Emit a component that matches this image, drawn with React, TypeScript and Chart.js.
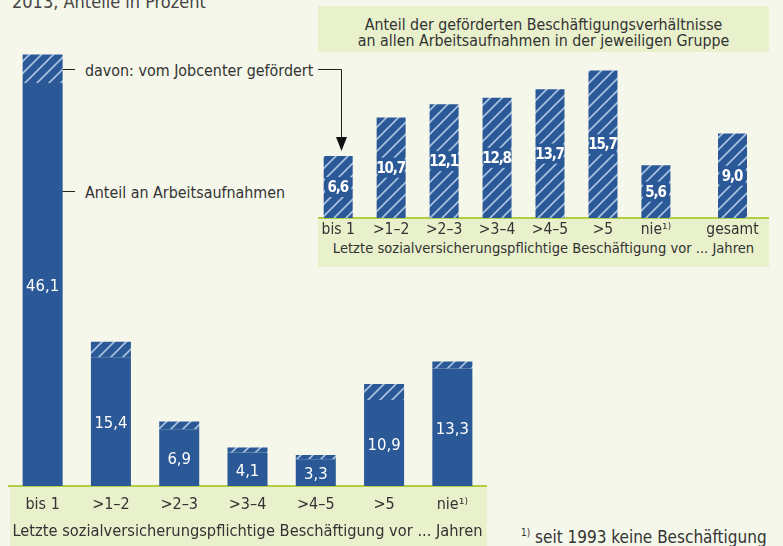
import React, { useEffect, useRef } from 'react';
import { Chart, registerables } from 'chart.js';

Chart.register(...registerables);

const FONT = "'Liberation Sans Narrow', 'DejaVu Sans Condensed', 'Roboto Condensed', sans-serif";
const BG = '#f5f7ea';
const LIGHT = '#e9f0cc';
const GREEN = '#b3cd45';
const BLUE = '#2b5896';
const STRIPE = '#a9c3e2';
const TEXT = '#333333';

// ---- data ----
const categories = ['bis 1', '>1–2', '>2–3', '>3–4', '>4–5', '>5', 'nie¹⁾'];
const hireShares = [46.1, 15.4, 6.9, 4.1, 3.3, 10.9, 13.3];
const fundedShares = [6.6, 10.7, 12.1, 12.8, 13.7, 15.7, 5.6];
const totalCategory = ['gesamt'];
const totalFunded = [9.0];

const topTitle = '2013, Anteile in Prozent';
const insetTitle = ['Anteil der geförderten Beschäftigungsverhältnisse', 'an allen Arbeitsaufnahmen in der jeweiligen Gruppe'];
const axisTitle = 'Letzte sozialversicherungspflichtige Beschäftigung vor ... Jahren';
const fundedLabel = 'davon: vom Jobcenter gefördert';
const hiresLabel = 'Anteil an Arbeitsaufnahmen';
const footnote = 'seit 1993 keine Beschäftigung';

const fmt = (v: number) => v.toFixed(1).replace('.', ',');

function makeHatch(): CanvasPattern | string {
  const c = document.createElement('canvas');
  c.width = 12;
  c.height = 12;
  const g = c.getContext('2d');
  if (!g) return BLUE;
  g.fillStyle = BLUE;
  g.fillRect(0, 0, 12, 12);
  g.strokeStyle = STRIPE;
  g.lineWidth = 1.6;
  g.beginPath();
  g.moveTo(-2, 14); g.lineTo(14, -2);
  g.moveTo(-2, 2); g.lineTo(2, -2);
  g.moveTo(10, 14); g.lineTo(14, 10);
  g.stroke();
  return g.createPattern(c, 'repeat') || BLUE;
}

const mainPlugin = {
  id: 'mainDecor',
  beforeDraw(chart: any) {
    const { ctx, chartArea } = chart;
    ctx.save();
    ctx.fillStyle = LIGHT;
    ctx.fillRect(chartArea.left + 1.5, chartArea.bottom, chartArea.right - chartArea.left - 1, chart.height - chartArea.bottom);
    ctx.restore();
  },
  afterDatasetsDraw(chart: any) {
    const { ctx } = chart;
    const meta = chart.getDatasetMeta(0);
    ctx.save();
    ctx.font = `16.5px ${FONT}`;
    ctx.fillStyle = '#ffffff';
    ctx.textAlign = 'center';
    ctx.textBaseline = 'middle';
    meta.data.forEach((el: any, i: number) => {
      const p = el.getProps(['x', 'y', 'base'], true);
      ctx.fillText(fmt(hireShares[i]), p.x, (p.y + p.base) / 2 + 2.5);
    });
    ctx.restore();
  },
};

function insetPlugin(values: number[]) {
  return {
    id: 'insetLabels',
    afterDatasetsDraw(chart: any) {
      const { ctx } = chart;
      const meta = chart.getDatasetMeta(0);
      ctx.save();
      ctx.font = `bold 15px ${FONT}`;
      try { (ctx as any).letterSpacing = '-1.2px'; } catch (e) { /* ignore */ }
      ctx.textAlign = 'center';
      ctx.textBaseline = 'middle';
      meta.data.forEach((el: any, i: number) => {
        const p = el.getProps(['x', 'y', 'base', 'width'], true);
        const cy = (p.y + p.base) / 2;
        const t = fmt(values[i]);
        const w = Math.min(p.width - 2, ctx.measureText(t).width + 6);
        ctx.fillStyle = BLUE;
        ctx.fillRect(p.x - w / 2, cy - 10, w, 20);
        ctx.fillStyle = '#ffffff';
        ctx.fillText(t, p.x - 0.5, cy + 1);
      });
      ctx.restore();
    },
  };
}

function insetOptions(padLeft: number, padRight: number) {
  return {
    animation: false as const,
    responsive: false,
    layout: { padding: { left: padLeft, right: padRight, top: 67.6, bottom: 0 } },
    plugins: { legend: { display: false }, tooltip: { enabled: false } },
    scales: {
      x: {
        grid: { display: false, drawTicks: false },
        border: { display: false },
        ticks: { color: TEXT, font: { family: FONT, size: 15.5 }, padding: 2.5, autoSkip: false, maxRotation: 0 },
        afterFit: (s: any) => { s.height = 52; },
      },
      y: { display: false, min: 0, max: 16 },
    },
  };
}

export default function App() {
  const mainRef = useRef<HTMLCanvasElement>(null);
  const insetRef = useRef<HTMLCanvasElement>(null);
  const totalRef = useRef<HTMLCanvasElement>(null);

  useEffect(() => {
    document.body.style.margin = '0';
    const hatch = makeHatch();
    const charts: Chart[] = [];

    if (mainRef.current) {
      charts.push(new Chart(mainRef.current, {
        type: 'bar',
        data: {
          labels: categories,
          datasets: [
            {
              label: hiresLabel,
              data: hireShares.map((v, i) => v * (1 - fundedShares[i] / 100)),
              backgroundColor: BLUE,
              barPercentage: 0.586,
              categoryPercentage: 1,
              stack: 'a',
            },
            {
              label: fundedLabel,
              data: hireShares.map((v, i) => (v * fundedShares[i]) / 100),
              backgroundColor: hatch as any,
              barPercentage: 0.586,
              categoryPercentage: 1,
              stack: 'a',
            },
          ],
        },
        options: {
          animation: false,
          responsive: false,
          layout: { padding: { left: 8.5, right: 13.5, top: 18, bottom: 0 } },
          plugins: { legend: { display: false }, tooltip: { enabled: false } },
          scales: {
            x: {
              stacked: true,
              grid: { display: false, drawTicks: false },
              border: { display: true, color: GREEN, width: 2 },
              ticks: { color: TEXT, font: { family: FONT, size: 16 }, padding: 9.5, autoSkip: false, maxRotation: 0 },
              title: { display: true, text: axisTitle, color: TEXT, font: { family: FONT, size: 16.3 }, padding: { top: 0, bottom: 4 } },
              afterFit: (s: any) => { s.height = 60; },
            },
            y: { stacked: true, display: false, min: 0, max: 50 },
          },
        } as any,
        plugins: [mainPlugin],
      }));
    }

    if (insetRef.current) {
      charts.push(new Chart(insetRef.current, {
        type: 'bar',
        data: {
          labels: categories,
          datasets: [{ label: fundedLabel, data: fundedShares, backgroundColor: hatch as any, barPercentage: 0.548, categoryPercentage: 1 }],
        },
        options: insetOptions(11.7, 17.6) as any,
        plugins: [insetPlugin(fundedShares)],
      }));
    }

    if (totalRef.current) {
      charts.push(new Chart(totalRef.current, {
        type: 'bar',
        data: {
          labels: totalCategory,
          datasets: [{ label: fundedLabel, data: totalFunded, backgroundColor: hatch as any, barPercentage: 0.547, categoryPercentage: 1 }],
        },
        options: insetOptions(6, 24) as any,
        plugins: [insetPlugin(totalFunded)],
      }));
    }

    return () => charts.forEach((c) => c.destroy());
  }, []);

  const abs = (l: number, t: number, w: number, h: number): React.CSSProperties => ({ position: 'absolute', left: l, top: t, width: w, height: h });

  return (
    <div style={{ position: 'absolute', left: 0, top: 0, width: 783, height: 546, background: BG, overflow: 'hidden', fontFamily: FONT }}>
      <svg width={783} height={546} style={{ position: 'absolute', left: 0, top: 0 }} fontFamily={FONT}>
        <text x={12} y={8} fontSize={18} fill="#444">{topTitle}</text>
        <rect x={318} y={6} width={451} height={46} fill={LIGHT} />
        <text x={543.5} y={30} fontSize={15.8} fill={TEXT} textAnchor="middle">{insetTitle[0]}</text>
        <text x={543.5} y={46} fontSize={15.8} fill={TEXT} textAnchor="middle">{insetTitle[1]}</text>
        <rect x={318} y={218} width={451} height={49} fill={LIGHT} />
        <line x1={318} y1={218} x2={769} y2={218} stroke={GREEN} strokeWidth={2} />
        <text x={543.5} y={253} fontSize={14.6} fill={TEXT} textAnchor="middle">{axisTitle}</text>

        <line x1={62} y1={69.5} x2={75} y2={69.5} stroke="#222" strokeWidth={1} />
        <text x={85} y={76} fontSize={15.9} fill={TEXT}>{fundedLabel}</text>
        <polyline points="318,69.5 341.5,69.5 341.5,138" fill="none" stroke="#222" strokeWidth={1} />
        <polygon points="336,137 347,137 341.5,151" fill="#111" />
        <line x1={62} y1={191.5} x2={75} y2={191.5} stroke="#222" strokeWidth={1} />
        <text x={85} y={197.5} fontSize={15.9} fill={TEXT}>{hiresLabel}</text>

        <text x={521} y={536} fontSize={10} fill={TEXT}>1)</text>
        <text x={535} y={543} fontSize={17} fill={TEXT}>{footnote}</text>
      </svg>
      <canvas ref={mainRef} width={500} height={546} style={abs(0, 0, 500, 546)} />
      <canvas ref={insetRef} width={400} height={270} style={abs(300, 0, 400, 270)} />
      <canvas ref={totalRef} width={83} height={270} style={abs(700, 0, 83, 270)} />
    </div>
  );
}
